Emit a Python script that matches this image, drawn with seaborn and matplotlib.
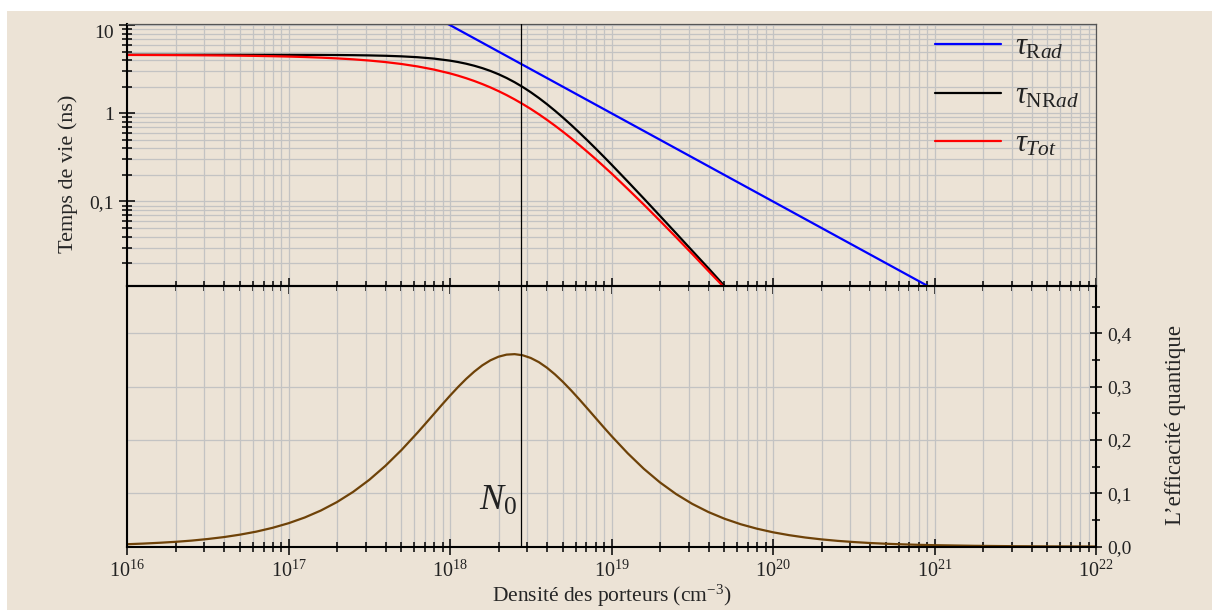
import numpy as np
import pandas as pd
import matplotlib
matplotlib.use("Agg")
import matplotlib.pyplot as plt
import seaborn as sns
from matplotlib.ticker import (LogLocator, LogFormatterMathtext, MultipleLocator,
                               NullFormatter, FixedLocator)
from matplotlib.patches import Rectangle

# ---------------- data ----------------
# log10 of carrier density for lifetime curves
log_n_tau = [16.0, 16.1, 16.2, 16.3, 16.4, 16.5, 16.6, 16.7, 16.8, 16.9,
             17.0, 17.1, 17.2, 17.3, 17.4, 17.5, 17.6, 17.7, 17.8, 17.9,
             18.0, 18.05, 18.1, 18.15, 18.2, 18.25, 18.3, 18.35, 18.4, 18.45,
             18.5, 18.55, 18.6, 18.65, 18.7, 18.75, 18.8, 18.85, 18.9, 18.95,
             19.0, 19.1, 19.2, 19.3, 19.4, 19.5, 19.6, 19.7, 19.8]
tau_nrad = [4.608, 4.608, 4.608, 4.608, 4.608, 4.608, 4.607, 4.606, 4.605, 4.603,
            4.601, 4.596, 4.589, 4.578, 4.561, 4.533, 4.490, 4.424, 4.323, 4.172,
            3.953, 3.812, 3.649, 3.462, 3.253, 3.023, 2.775, 2.516, 2.251, 1.988,
            1.733, 1.492, 1.270, 1.069, 0.8918, 0.7378, 0.6060, 0.4947, 0.4018, 0.3250,
            0.2620, 0.1688, 0.1080, 0.0687, 0.0436, 0.0276, 0.0175, 0.0110, 0.0070]
tau_tot = [4.587, 4.582, 4.575, 4.566, 4.555, 4.541, 4.524, 4.502, 4.475, 4.441,
           4.398, 4.345, 4.278, 4.195, 4.092, 3.965, 3.809, 3.621, 3.396, 3.133,
           2.833, 2.670, 2.500, 2.325, 2.146, 1.966, 1.786, 1.610, 1.438, 1.274,
           1.120, 0.9756, 0.843, 0.7236, 0.616, 0.5214, 0.438, 0.3664, 0.305, 0.2520,
           0.208, 0.139, 0.0922, 0.0604, 0.0393, 0.0254, 0.0163, 0.0105, 0.0067]
# radiative lifetime: straight line in log-log
log_n_rad = [17.0, 22.0]
tau_rad = [100.0, 0.001]

# quantum efficiency
log_n_eta = [16.0, 16.1, 16.2, 16.3, 16.4, 16.5, 16.6, 16.7, 16.8, 16.9,
             17.0, 17.1, 17.2, 17.3, 17.4, 17.5, 17.6, 17.7, 17.8, 17.85,
             17.9, 17.95, 18.0, 18.05, 18.1, 18.15, 18.2, 18.25, 18.3, 18.35,
             18.4, 18.45, 18.5, 18.55, 18.6, 18.65, 18.7, 18.75, 18.8, 18.85,
             18.9, 18.95, 19.0, 19.1, 19.2, 19.3, 19.4, 19.5, 19.6, 19.7,
             19.8, 19.9, 20.0, 20.1, 20.2, 20.3, 20.4, 20.5, 20.6, 20.7,
             20.8, 20.9, 21.0, 21.25, 21.5, 21.75, 22.0]
eta = [0.0046, 0.0058, 0.0073, 0.0091, 0.0114, 0.0144, 0.0180, 0.0226, 0.0282, 0.0353,
       0.0440, 0.0547, 0.0678, 0.0837, 0.1028, 0.1254, 0.1517, 0.1815, 0.2143, 0.2315,
       0.2489, 0.2663, 0.2833, 0.2996, 0.3148, 0.3284, 0.3402, 0.3496, 0.3564, 0.3603,
       0.3612, 0.3591, 0.3540, 0.3462, 0.3358, 0.3232, 0.3089, 0.2932, 0.2766, 0.2594,
       0.2420, 0.2246, 0.2076, 0.1753, 0.1461, 0.1206, 0.0987, 0.0803, 0.0650, 0.0524,
       0.0421, 0.0338, 0.0270, 0.0216, 0.0172, 0.0137, 0.0109, 0.0087, 0.0069, 0.0055,
       0.0044, 0.0035, 0.0028, 0.0016, 0.0009, 0.0005, 0.0003]

N0 = 2.75e18
x_major_ticks = [1e16, 1e17, 1e18, 1e19, 1e20, 1e21, 1e22]
legend_labels = [r"$\tau_{\mathrm{R}ad}$", r"$\tau_{\mathrm{NR}ad}$", r"$\tau_{Tot}$"]
top_yticks = [0.1, 1, 10]
top_yticklabels = ["0,1", "1", "10"]
bot_yticks = [0.0, 0.1, 0.2, 0.3, 0.4]
bot_yticklabels = ["0,0", "0,1", "0,2", "0,3", "0,4"]

# ---------------- style ----------------
BG = "#ECE3D6"
GRID = "#C3C3C3"
sns.set_style("ticks")
plt.rcParams["font.family"] = ["Liberation Serif", "DejaVu Serif"]
plt.rcParams["mathtext.fontset"] = "custom"
plt.rcParams["mathtext.rm"] = "Liberation Serif"
plt.rcParams["mathtext.it"] = "Liberation Serif:italic"
plt.rcParams["mathtext.bf"] = "Liberation Serif:bold"
plt.rcParams["text.color"] = "#222222"
plt.rcParams["xtick.color"] = "black"
plt.rcParams["ytick.color"] = "black"
plt.rcParams["xtick.labelcolor"] = "#222222"
plt.rcParams["ytick.labelcolor"] = "#222222"

fig = plt.figure(figsize=(12.12, 6.10), dpi=100)
fig.patch.set_facecolor("white")
fig.add_artist(Rectangle((7 / 1212, 0), 1, (610 - 11) / 610, transform=fig.transFigure,
                         facecolor=BG, edgecolor="none", zorder=-10))

ax1 = fig.add_axes([0.1048, 0.5311, 0.7995, 0.4296])
ax2 = fig.add_axes([0.1048, 0.1038, 0.7995, 0.4273], sharex=ax1)
for ax in (ax1, ax2):
    ax.set_facecolor("none")
    ax.set_axisbelow(True)

df_tau = pd.DataFrame({"N": np.power(10.0, log_n_tau), "nrad": tau_nrad, "tot": tau_tot})
df_rad = pd.DataFrame({"N": np.power(10.0, log_n_rad), "rad": tau_rad})
df_eta = pd.DataFrame({"N": np.power(10.0, log_n_eta), "eta": eta})

ax1.set_xscale("log")
ax1.set_yscale("log")
sns.lineplot(data=df_rad, x="N", y="rad", ax=ax1, color="#0000FF", lw=1.6,
             label=legend_labels[0], sort=False)
sns.lineplot(data=df_tau, x="N", y="nrad", ax=ax1, color="black", lw=1.6,
             label=legend_labels[1], sort=False)
sns.lineplot(data=df_tau, x="N", y="tot", ax=ax1, color="#FF0000", lw=1.6,
             label=legend_labels[2], sort=False)
sns.lineplot(data=df_eta, x="N", y="eta", ax=ax2, color="#6E4208", lw=1.6,
             legend=False, sort=False)

for ax in (ax1, ax2):
    ax.axvline(N0, color="black", lw=0.9, zorder=3)

ax1.set_xlim(1e16, 1e22)
ax1.set_ylim(0.011, 10.3)
ax2.set_ylim(0, 0.489)

# x axis
ax1.xaxis.set_major_locator(FixedLocator(x_major_ticks))
ax1.xaxis.set_minor_locator(LogLocator(base=10, subs=np.arange(2, 10), numticks=200))
ax1.xaxis.set_major_formatter(LogFormatterMathtext())
ax1.xaxis.set_minor_formatter(NullFormatter())
ax1.tick_params(axis="x", which="both", direction="inout", bottom=True, top=False,
                labelbottom=False, width=1.1)
ax1.tick_params(axis="x", which="major", length=12)
ax1.tick_params(axis="x", which="minor", length=6.5)
ax2.tick_params(axis="x", which="both", direction="inout", bottom=True, top=False,
                labelbottom=True, width=1.1, labelsize=14.5, pad=4)
ax2.tick_params(axis="x", which="major", length=12)
ax2.tick_params(axis="x", which="minor", length=6.5)

# top y axis
ax1.yaxis.set_minor_locator(LogLocator(base=10, subs=np.arange(2, 10), numticks=50))
ax1.yaxis.set_minor_formatter(NullFormatter())
ax1.set_yticks(top_yticks)
ax1.set_yticklabels(top_yticklabels)
ax1.tick_params(axis="y", which="both", direction="inout", left=True, right=False,
                width=1.1, labelsize=14)
ax1.tick_params(axis="y", which="major", length=12)
ax1.tick_params(axis="y", which="minor", length=6.5)
ax1.get_yticklabels()[-1].set_verticalalignment("top")

# bottom y axis (right)
ax2.yaxis.tick_right()
ax2.set_yticks(bot_yticks)
ax2.set_yticklabels(bot_yticklabels)
ax2.yaxis.set_minor_locator(MultipleLocator(0.05))
ax2.tick_params(axis="y", which="both", direction="inout", left=False, right=True,
                width=1.1, labelsize=14)
ax2.tick_params(axis="y", which="major", length=9)
ax2.tick_params(axis="y", which="minor", length=6)

# grids
ax1.grid(True, which="both", axis="both", color=GRID, lw=0.9)
ax2.grid(True, which="both", axis="x", color=GRID, lw=0.9)
ax2.grid(True, which="major", axis="y", color=GRID, lw=0.9)

# spines
for s in ("top", "right"):
    ax1.spines[s].set_color("#555555")
    ax1.spines[s].set_linewidth(0.9)
    ax1.spines[s].set_visible(True)
for s in ("left", "bottom"):
    ax1.spines[s].set_color("black")
    ax1.spines[s].set_linewidth(1.5)
for s in ("left", "bottom", "right", "top"):
    ax2.spines[s].set_color("black")
    ax2.spines[s].set_linewidth(1.5)
    ax2.spines[s].set_visible(True)

# labels
ax1.set_xlabel("")
ax1.set_ylabel("Temps de vie (ns)", fontsize=16)
ax1.yaxis.set_label_coords(-0.0505, 0.43)
ax2.set_ylabel("L\u2019efficacité quantique", fontsize=16.5)
ax2.yaxis.set_label_position("right")
ax2.yaxis.set_label_coords(1.0712, 0.467)
ax2.set_xlabel("Densité des porteurs (cm$^{-3}$)", fontsize=15.5, labelpad=0.5)

ax2.text(2.62e18, 0.069, r"$N_{\mathrm{0}}$", ha="right", va="baseline", fontsize=26)

leg = ax1.legend(loc="upper left", bbox_to_anchor=(0.8212, 1.013), frameon=False,
                 fontsize=22, handlelength=2.16, labelspacing=0.64, handletextpad=0.45,
                 borderaxespad=0.0)
for line in leg.get_lines():
    line.set_linewidth(1.6)

fig.savefig("out.png", dpi=100, facecolor=fig.get_facecolor())
